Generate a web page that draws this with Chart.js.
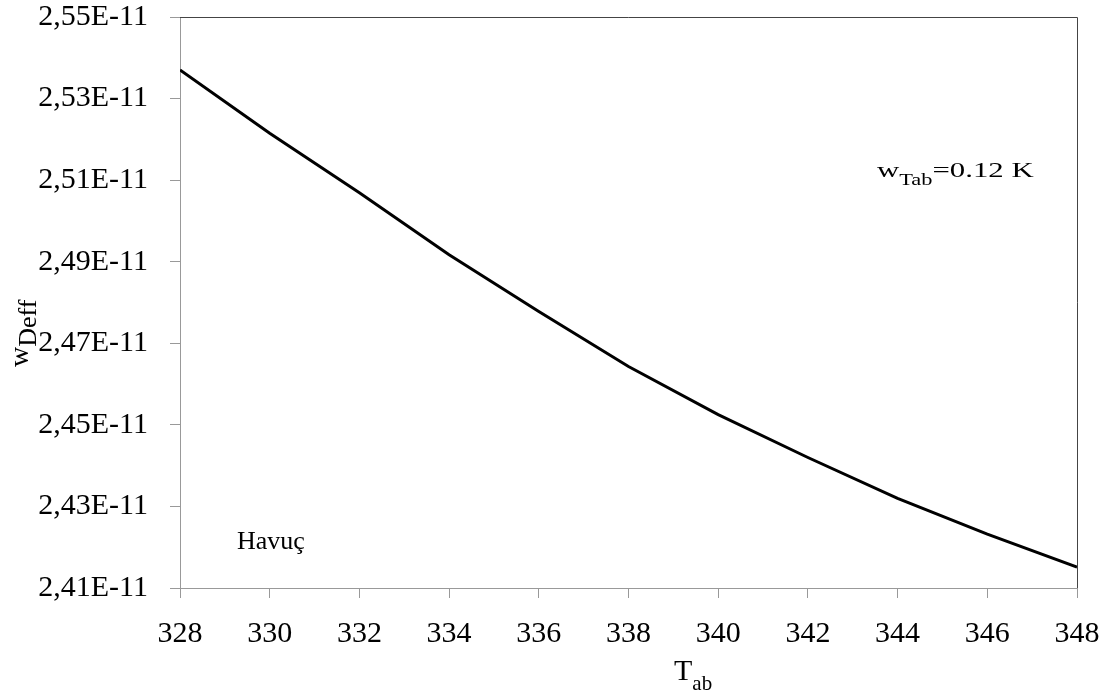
<!DOCTYPE html>
<html>
<head>
<meta charset="utf-8">
<script src="https://cdn.jsdelivr.net/npm/chart.js@4.4.1/dist/chart.umd.min.js"></script>
<style>
  html, body { margin: 0; padding: 0; background: #ffffff; }
  #wrap { width: 1114px; height: 697px; position: relative; }
</style>
</head>
<body>
<div id="wrap"><canvas id="chart" width="1114" height="697"></canvas></div>
<script>
// Absorber temperature (K)
const temperatures = [328, 330, 332, 334, 336, 338, 340, 342, 344, 346, 348];
// Effective moisture diffusivity uncertainty w_Deff
const wDeff = [2.5370e-11, 2.5215e-11, 2.5069e-11, 2.4917e-11, 2.4778e-11, 2.4643e-11,
               2.4525e-11, 2.4420e-11, 2.4320e-11, 2.4232e-11, 2.4151e-11];
// Tick positions
const xTickValues = [328, 330, 332, 334, 336, 338, 340, 342, 344, 346, 348];
const yTickValues = [2.41e-11, 2.43e-11, 2.45e-11, 2.47e-11, 2.49e-11, 2.51e-11, 2.53e-11, 2.55e-11];
// Text labels
const productLabel = 'Havuç';
const uncertaintyLabel = { main: 'w', sub: 'Tab', rest: '=0.12 K' };
const xTitle = { main: 'T', sub: 'ab' };
const yTitle = { main: 'w', sub: 'Deff' };

const SERIF = "'Liberation Serif', 'Times New Roman', serif";

function formatSci(v) {
  return (v / 1e-11).toFixed(2).replace('.', ',') + 'E-11';
}

const textPlugin = {
  id: 'serifText',
  afterDraw(chart) {
    const ctx = chart.ctx;
    const a = chart.chartArea;
    ctx.save();

    // frame: top and right edges
    ctx.strokeStyle = '#444444';
    ctx.lineWidth = 1;
    ctx.beginPath();
    ctx.moveTo(a.left, a.top + 0.5);
    ctx.lineTo(a.right + 0.5, a.top + 0.5);
    ctx.lineTo(a.right + 0.5, a.bottom);
    ctx.stroke();

    ctx.fillStyle = '#000000';
    ctx.textBaseline = 'alphabetic';
    ctx.textAlign = 'left';

    // product name
    ctx.font = '26px ' + SERIF;
    ctx.fillText(productLabel, 237, 549);

    // uncertainty of absorber temperature (horizontally stretched text box)
    ctx.save();
    ctx.translate(877, 0);
    ctx.scale(1.4, 1);
    ctx.font = '22px ' + SERIF;
    let x = 0;
    ctx.fillText(uncertaintyLabel.main, x, 177);
    x += ctx.measureText(uncertaintyLabel.main).width;
    ctx.font = '16px ' + SERIF;
    ctx.fillText(uncertaintyLabel.sub, x, 185);
    x += ctx.measureText(uncertaintyLabel.sub).width;
    ctx.font = '22px ' + SERIF;
    ctx.fillText(uncertaintyLabel.rest, x, 177);
    ctx.restore();

    // x-axis title
    ctx.font = '30px ' + SERIF;
    ctx.fillText(xTitle.main, 674, 680);
    const tw = ctx.measureText(xTitle.main).width;
    ctx.font = '21px ' + SERIF;
    ctx.fillText(xTitle.sub, 674 + tw, 690);

    // y-axis title (rotated)
    ctx.save();
    ctx.translate(28, 367);
    ctx.rotate(-Math.PI / 2);
    ctx.font = '28px ' + SERIF;
    ctx.fillText(yTitle.main, 0, 0);
    const ww = ctx.measureText(yTitle.main).width;
    ctx.font = '26px ' + SERIF;
    ctx.fillText(yTitle.sub, ww, 8);
    ctx.restore();

    ctx.restore();
  }
};

new Chart(document.getElementById('chart'), {
  type: 'line',
  data: {
    datasets: [{
      data: temperatures.map((t, i) => ({ x: t, y: wDeff[i] })),
      borderColor: '#000000',
      borderWidth: 3,
      pointRadius: 0,
      tension: 0,
      fill: false
    }]
  },
  options: {
    responsive: false,
    animation: false,
    devicePixelRatio: 1,
    layout: { padding: { left: 0, top: 17, right: 37, bottom: 0 } },
    plugins: { legend: { display: false }, tooltip: { enabled: false } },
    scales: {
      x: {
        type: 'linear',
        min: xTickValues[0],
        max: xTickValues[xTickValues.length - 1],
        afterBuildTicks(scale) { scale.ticks = xTickValues.map(v => ({ value: v })); },
        afterFit(scale) {
          scale.height = 109;
          scale.paddingLeft = 0;
          scale.paddingRight = 0;
        },
        ticks: {
          color: '#000000',
          font: { family: SERIF, size: 30 },
          padding: 18,
          maxRotation: 0,
          autoSkip: false,
          callback: v => String(v)
        },
        grid: { drawOnChartArea: false, drawTicks: true, tickLength: 10, color: '#999999', tickColor: '#999999' },
        border: { display: true, color: '#999999', width: 1 }
      },
      y: {
        type: 'linear',
        min: yTickValues[0],
        max: yTickValues[yTickValues.length - 1],
        afterBuildTicks(scale) { scale.ticks = yTickValues.map(v => ({ value: v })); },
        afterFit(scale) {
          scale.width = 180;
          scale.paddingTop = 0;
          scale.paddingBottom = 0;
        },
        ticks: {
          color: '#000000',
          font: { family: SERIF, size: 30 },
          padding: 22,
          autoSkip: false,
          callback: v => formatSci(v)
        },
        grid: { drawOnChartArea: false, drawTicks: true, tickLength: 10, color: '#999999', tickColor: '#999999' },
        border: { display: true, color: '#999999', width: 1 }
      }
    }
  },
  plugins: [textPlugin]
});
</script>
</body>
</html>
